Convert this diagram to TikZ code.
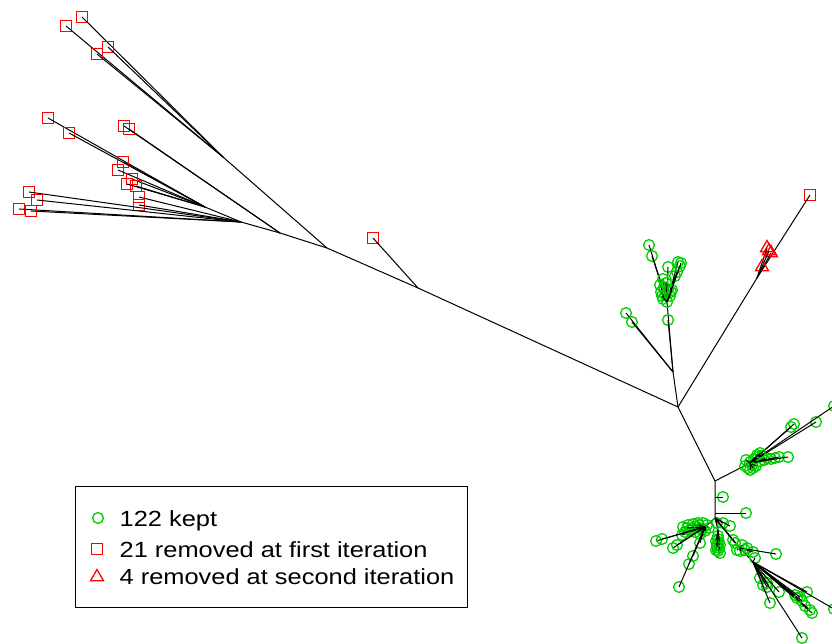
\documentclass[tikz,border=0pt]{standalone}
\usepackage{fontspec}
\setmainfont{Liberation Sans}
\newfontfamily\legfont[FakeStretch=1.16]{Liberation Sans}
\usetikzlibrary{shapes.geometric}
\definecolor{kgreen}{RGB}{0,205,0}
\definecolor{rred}{RGB}{255,0,0}
\tikzset{
  edge/.style={draw=black,line width=1pt},
  kept/.style={circle,draw=kgreen,line width=1.3pt,minimum size=10.8pt,inner sep=0pt},
  remA/.style={rectangle,draw=rred,line width=1.3pt,minimum size=10.6pt,inner sep=0pt},
  remB/.style={regular polygon,regular polygon sides=3,draw=rred,line width=1.3pt,minimum size=15pt,inner sep=0pt},
  legtext/.style={anchor=base west,inner sep=0pt,font=\legfont\fontsize{21.9}{24}\selectfont}
}
\newcommand\leafK[4]{\node[kept] (#1) at (#2,#3) {}; \draw[edge] (#4) -- (#1.center);}
\newcommand\leafS[4]{\node[remA] (#1) at (#2,#3) {}; \draw[edge] (#4) -- (#1.center);}
\newcommand\leafT[4]{\node[remB] (#1) at (#2,#3) {}; \draw[edge] (#4) -- (#1.center);}
\begin{document}
\begin{tikzpicture}[x=1pt,y=-1pt]
\useasboundingbox (0,0) rectangle (832,644);
\clip (0,0) rectangle (832,644);
% internal nodes
\coordinate (P1) at (241,222);
\coordinate (P2) at (280,233);
\coordinate (P3) at (327,248);
\coordinate (P4) at (418,288);
\coordinate (Q) at (223,157);
\coordinate (R) at (205,207);
\coordinate (H) at (678,407);
\coordinate (Tn) at (757,278);
\coordinate (B) at (673,372);
\coordinate (C) at (667,302);
\coordinate (D) at (715,481);
\coordinate (D1) at (715,497);
\coordinate (D2) at (715,513);
\coordinate (E) at (715,518);
\coordinate (E2) at (750,463);
\coordinate (EL) at (705,527);
\coordinate (EM) at (718,530);
\coordinate (F0) at (740,548);
\coordinate (F) at (753,562);
\draw[edge] (P1) -- (P2) -- (P3) -- (P4) -- (H);
\draw[edge] (Q) -- (P3);
\draw[edge] (R) -- (P1);
\draw[edge] (H) -- (Tn);
\draw[edge] (H) -- (B);
\draw[edge] (B) -- (C);
\draw[edge] (H) -- (D) -- (D1) -- (D2) -- (E);
\draw[edge] (D) -- (E2);
\draw[edge] (E) -- (EL);
\draw[edge] (E) -- (EM);
\draw[edge] (E) -- (F0) -- (F);
% red squares
\leafS{s1}{82}{17}{Q}
\leafS{s2}{66}{26}{Q}
\leafS{s3}{108}{47}{Q}
\leafS{s4}{97}{54}{Q}
\leafS{s5}{48}{118}{R}
\leafS{s6}{69}{133}{R}
\leafS{s7}{124}{126}{P2}
\leafS{s8}{129}{129}{P2}
\leafS{s9}{123}{162}{R}
\leafS{s10}{118}{170}{R}
\leafS{s11}{132}{179}{R}
\leafS{s12}{127}{184}{R}
\leafS{s13}{136}{186}{R}
\leafS{s14}{139}{197}{P1}
\leafS{s15}{139}{205}{P1}
\leafS{s16}{29}{192}{P1}
\leafS{s17}{37}{200}{P1}
\leafS{s18}{19}{209}{P1}
\leafS{s19}{31}{211}{P1}
\leafS{s20}{373}{238}{P4}
\leafS{s21}{810}{195}{Tn}
% red triangles
\leafT{t1}{767}{248}{Tn}
\leafT{t2}{771}{253}{Tn}
\leafT{t3}{769}{251}{Tn}
\leafT{t4}{762}{267}{Tn}
% green: cluster B/C
\foreach \n/\x/\y/\p in {
 b1/626/313/B, b2/632/322/B, b3/668/320/B,
 c1/649/245/C, c2/652/256/C, c3/668/267/C, c4/663/279/C, c5/678/262/C, c6/681/263/C,
 c7/677/272/C, c8/675/276/C, c9/660/285/C, c10/664/287/C, c11/668/289/C, c12/671/292/C,
 c13/661/292/C, c14/665/295/C, c15/670/296/C, c16/663/299/C, c17/667/302/C, c18/672/290/C,
 c19/666/283/C, c20/680/266/C, c21/662/296/C}
 {\leafK{\n}{\x}{\y}{\p}}
% green: cluster E2
\foreach \n/\x/\y/\p in {
 e1/745/466/E2, e2/748/468/E2, e3/750/462/E2, e4/752/465/E2, e5/754/459/E2, e6/756/466/E2,
 e7/758/457/E2, e8/760/461/E2, e9/762/456/E2, e10/764/460/E2, e11/767/458/E2, e12/771/459/E2,
 e13/775/458/E2, e14/779/457/E2, e15/788/457/E2, e16/750/470/E2, e17/746/460/E2, e18/757/455/E2,
 e19/791/427/E2, e20/794/424/E2, e21/816/422/E2, e22/834/406/E2, e23/753/468/E2, e24/760/453/E2}
 {\leafK{\n}{\x}{\y}{\p}}
% green: D side leaves
\leafK{d1}{723}{497}{D1}
\leafK{d2}{746}{513}{D2}
% green: left group EL
\foreach \n/\x/\y/\p in {
 l1/683/527/EL, l2/688/525/EL, l3/693/524/EL, l4/698/523/EL, l5/703/523/EL, l6/707/525/EL,
 l7/709/528/EL, l8/690/530/EL, l9/695/532/EL, l10/702/530/EL, l11/685/532/EL, l12/682/535/EL,
 l13/697/527/EL, l14/700/534/EL, l15/692/528/EL, l16/705/531/EL, l17/687/528/EL, l18/699/525/EL,
 l19/656/541/EL, l20/662/539/EL, l21/673/548/EL, l22/677/545/EL, l23/700/543/EL,
 l24/693/556/EL, l25/689/564/EL, l26/679/587/EL}
 {\leafK{\n}{\x}{\y}{\p}}
% green: middle group EM
\foreach \n/\x/\y/\p in {
 m1/718/536/EM, m2/718/539/EM, m3/719/542/EM, m4/717/545/EM, m5/719/548/EM, m6/718/551/EM,
 m7/720/553/EM, m8/716/550/EM, m9/716/541/EM, m10/720/545/EM, m11/717/523/E, m12/723/523/E,
 m13/730/526/E, m14/717/547/EM}
 {\leafK{\n}{\x}{\y}{\p}}
% green: right path
\foreach \n/\x/\y/\p in {
 r1/733/540/E, r2/737/550/F0, r3/735/543/E, r4/745/550/F0, r5/747/548/F0, r6/753/552/F0,
 r7/755/558/F, r8/776/554/F0, r9/742/545/F0, r10/740/551/F0}
 {\leafK{\n}{\x}{\y}{\p}}
% green: F group
\foreach \n/\x/\y/\p in {
 f1/760/578/F, f2/763/585/F, f3/767/583/F, f4/767/587/F, f5/770/603/F, f6/779/592/F,
 f7/795/595/F, f8/797/598/F, f9/802/601/F, f10/807/592/F, f11/810/610/F, f12/812/613/F,
 f13/805/606/F, f14/802/638/F, f15/834/609/F, f16/800/597/F}
 {\leafK{\n}{\x}{\y}{\p}}
% legend
\draw[line width=1pt] (75,486) rectangle (467,607);
\node[kept] (lk) at (98,518) {};
\node[remA] (lr1) at (97,549) {};
\node[remB] (lr2) at (97,577) {};
\node[legtext] (tk) at (119.5,526.5) {122 kept};
\node[legtext] (tr1) at (119.5,557) {21 removed at first iteration};
\node[legtext] (tr2) at (119.5,584.5) {4 removed at second iteration};
\end{tikzpicture}
\end{document}
